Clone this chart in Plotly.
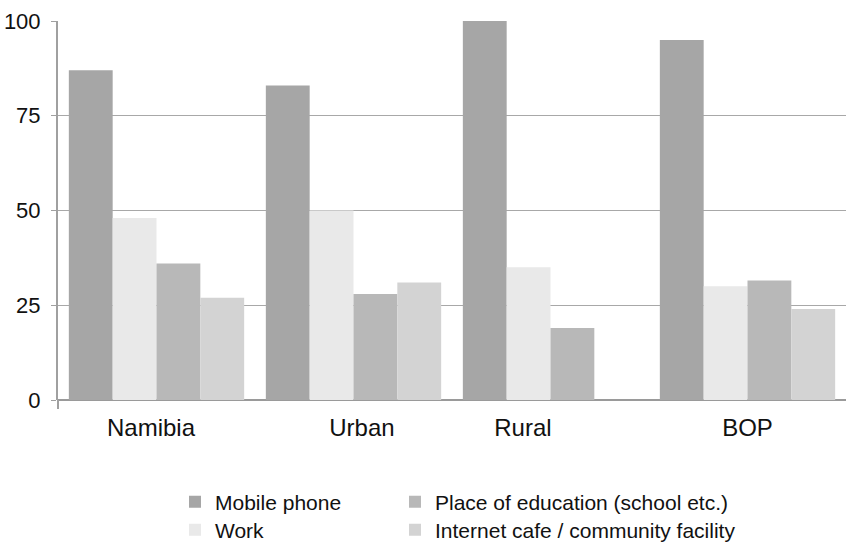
import numpy as np
import plotly.graph_objects as go

# Where people access the internet, by area (% of respondents)
categories = ["Namibia", "Urban", "Rural", "BOP"]
mobile_phone = [87, 83, 100, 95]
work = [48, 50, 35, 30]
education = [36, 28, 19, 31.5]
internet_cafe = [27, 31, None, 24]

y_ticks = [0, 25, 50, 75, 100]

# (name, values, colour, legend id)
series = [
    ("Mobile phone", mobile_phone, "#a6a6a6", "legend"),
    ("Work", work, "#e9e9e9", "legend2"),
    ("Place of education (school etc.)", education, "#b8b8b8", "legend3"),
    ("Internet cafe / community facility", internet_cafe, "#d3d3d3", "legend4"),
]

pos = np.arange(len(categories))
# label nudges along the category axis (in category units)
label_shift = [-0.028, 0.043, -0.14, 0.0]

fig = go.Figure()
for name, vals, color, leg in series:
    fig.add_trace(go.Bar(
        x=pos, y=vals, name=name, marker=dict(color=color, line=dict(width=0)),
        legend=leg,
    ))

font_family = "Liberation Sans, Arial, sans-serif"
legend_common = dict(
    xref="container", yref="container", xanchor="left", yanchor="middle",
    orientation="h",
    font=dict(size=21, family=font_family, color="#111111"),
    bgcolor="rgba(0,0,0,0)", itemclick=False, itemdoubleclick=False,
)
col_x = [175 / 846, 395 / 846]
row_y = [1 - 502 / 542, 1 - 530 / 542]

fig.update_layout(
    width=846, height=542,
    margin=dict(l=58, r=0, t=21, b=142, autoexpand=False),
    paper_bgcolor="white", plot_bgcolor="white",
    barmode="group", bargap=0.11, bargroupgap=0,
    font=dict(family=font_family, color="#111111"),
    showlegend=True,
    legend=dict(x=col_x[0], y=row_y[0], **legend_common),
    legend2=dict(x=col_x[0], y=row_y[1], **legend_common),
    legend3=dict(x=col_x[1], y=row_y[0], **legend_common),
    legend4=dict(x=col_x[1], y=row_y[1], **legend_common),
    xaxis=dict(
        range=[-0.5, len(categories) - 0.5],
        tickmode="array", tickvals=list(pos + np.array(label_shift)), ticktext=categories,
        ticks="", showgrid=False, zeroline=False, showline=False,
        tickfont=dict(size=24, family=font_family, color="#111111"),
        ticklabelstandoff=11, tickangle=0,
    ),
    yaxis=dict(
        range=[0, 100], tickmode="array", tickvals=y_ticks,
        showgrid=True, gridcolor="#a8a8a8", gridwidth=1,
        zeroline=True, zerolinecolor="#9a9a9a", zerolinewidth=2,
        showline=True, linecolor="#a0a0a0", linewidth=2,
        ticks="outside", ticklen=5, tickcolor="#a0a0a0", tickwidth=1,
        tickfont=dict(size=22, family=font_family, color="#111111"),
        ticklabelstandoff=6,
    ),
)

# short tick below the origin on the left axis
fig.add_shape(type="line", xref="paper", yref="paper", x0=0, x1=0, y0=0, y1=-0.024,
              line=dict(color="#a0a0a0", width=2))

fig.write_html("out.html")
